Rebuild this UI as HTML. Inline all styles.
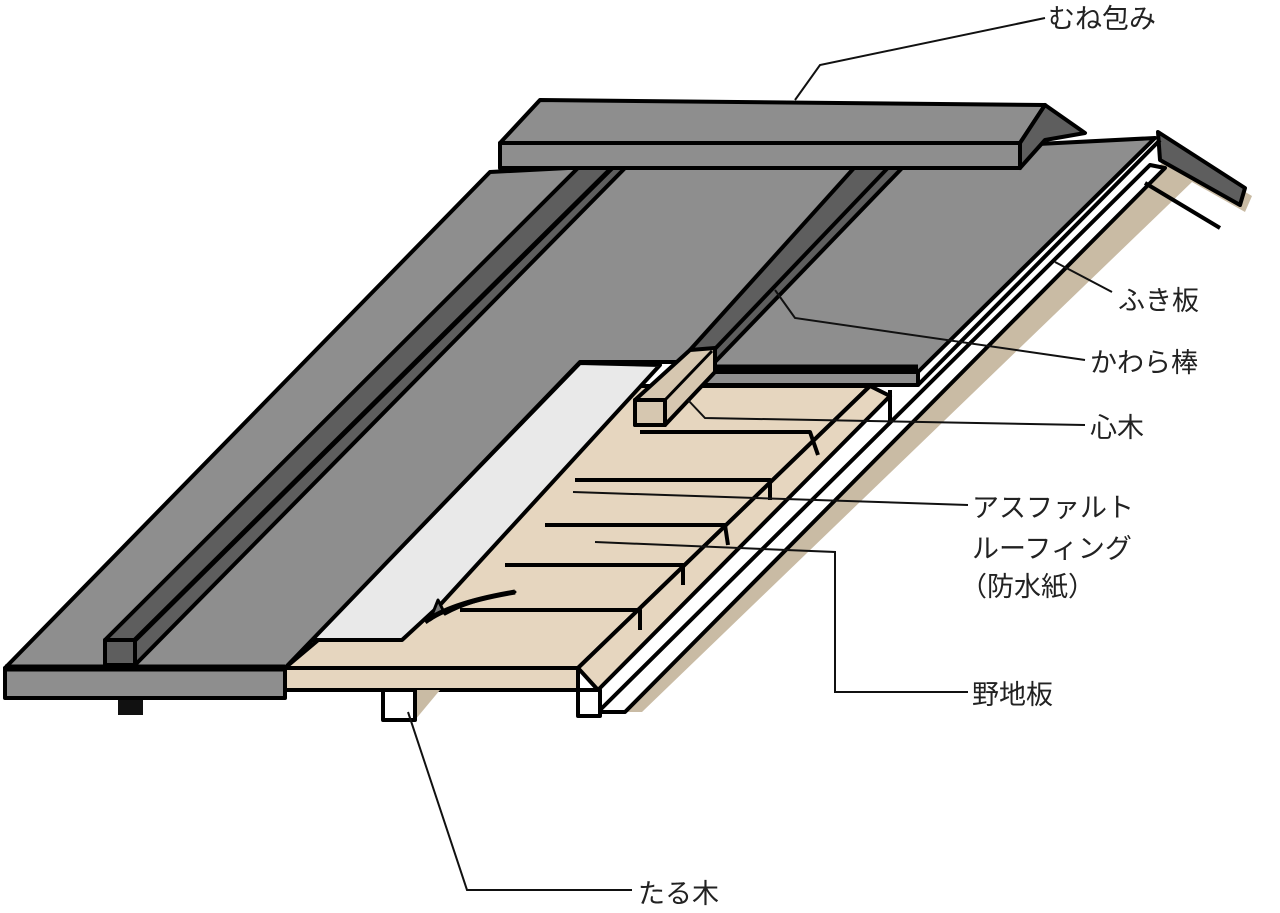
<!DOCTYPE html>
<html><head><meta charset="utf-8"><style>
html,body{margin:0;padding:0;background:#fff;}
svg{display:block}
text{font-family:"Liberation Sans","Noto Sans CJK JP",sans-serif;font-size:27px;fill:#222;}
</style></head><body>
<svg width="1280" height="913" viewBox="0 0 1280 913" xmlns="http://www.w3.org/2000/svg">
<g stroke="#000" stroke-linejoin="round">
<polygon points="1175,150 1252,196 1245,212 1192,182 642,712 612,712" fill="#c9bba4" stroke="none"/>
<polygon points="1150,165 1165,168 625,712 598,712" fill="#fff" stroke-width="4"/>
<polyline points="1145,183 1220,228" fill="none" stroke-width="4"/>
<polygon points="1158,132 1245,188 1240,205 1160,160" fill="#5e5e5e" stroke-width="4"/>
<polygon points="285,668 578,668 870,386 620,386" fill="#e6d6bf" stroke-width="4"/>
<polygon points="578,668 598,690 890,396 870,386" fill="#e6d6bf" stroke-width="4"/>
<rect x="285" y="668" width="293" height="22" fill="#e6d6bf" stroke-width="4"/>
<polygon points="578,690 600,690 600,716 578,716" fill="#fff" stroke-width="4"/>
<polygon points="415,690 440,690 415,720" fill="#c9bba4" stroke="none"/>
<polygon points="383,690 415,690 415,720 383,720" fill="#fff" stroke-width="4"/>
<g stroke-width="4" fill="none">
<polyline points="640,432 810,432 818,455"/>
<polyline points="575,480 770,480 770,500"/>
<polyline points="545,525 725,525 728,545"/>
<polyline points="505,565 683,565 683,585"/>
<polyline points="460,610 640,610 640,630"/>
<line x1="890" y1="390" x2="890" y2="422"/>
</g>
<polygon points="311,640 402,640 440,605 660,365 580,363" fill="#e9e9e9" stroke-width="4"/>
<polygon points="490,172 1155,138 918,372 700,372 700,362 580,362 285,668 5,668" fill="#8e8e8e" stroke-width="4"/>
<rect x="5" y="668" width="280" height="30" fill="#8e8e8e" stroke-width="4"/>
<line x1="5" y1="668" x2="285" y2="668" stroke-width="7"/>
<rect x="118" y="700" width="25" height="15" fill="#111" stroke="none"/>
<polygon points="700,372 918,372 918,385 700,385" fill="#8e8e8e" stroke-width="4"/>
<line x1="700" y1="368" x2="918" y2="368" stroke-width="7"/>
<line x1="918" y1="385" x2="1160" y2="140" stroke-width="4"/>
<polygon points="598,148 628,148 628,165 135,665 105,665 105,640" fill="#5e5e5e" stroke-width="4"/>
<line x1="628" y1="152" x2="135" y2="640" stroke-width="5"/>
<rect x="105" y="640" width="30" height="25" fill="#5e5e5e" stroke-width="4"/>
<polygon points="872,148 905,148 905,165 715,362 715,350 690,350" fill="#5e5e5e" stroke-width="4"/>
<line x1="903" y1="152" x2="712" y2="352" stroke-width="4"/>
<polygon points="690,350 715,348 715,372 665,425 635,425 635,400" fill="#d6c7b0" stroke-width="4"/>
<line x1="665" y1="400" x2="712" y2="351" stroke-width="3"/>
<rect x="635" y="400" width="30" height="25" fill="#d6c7b0" stroke-width="4"/>
<polygon points="540,100 1045,105 1020,143 500,143" fill="#8e8e8e" stroke-width="4"/>
<rect x="500" y="143" width="520" height="25" fill="#8e8e8e" stroke-width="4"/>
<polygon points="1045,105 1085,133 1045,140 1020,168 1020,143" fill="#5e5e5e" stroke-width="4"/>
<path d="M515,592 Q455,600 430,620 L438,600 L445,614 Q470,600 515,592 Z" fill="#777" stroke-width="3"/>
<path d="M515,592 Q450,603 425,622" fill="none" stroke-width="5"/>
</g>
<g stroke="#111" stroke-width="2" fill="none">
<polyline points="795,100 820,65 1045,18"/>
<polyline points="1055,262 1112,292"/>
<polyline points="775,290 795,318 1085,360"/>
<polyline points="688,400 705,418 1085,425"/>
<polyline points="573,492 968,505"/>
<polyline points="595,542 835,552 835,692 968,692"/>
<polyline points="408,712 467,890 632,890"/>
</g>
<text x="1048" y="28">むね包み</text>
<text x="1118" y="310">ふき板</text>
<text x="1090" y="372">かわら棒</text>
<text x="1090" y="437">心木</text>
<text x="972" y="517">アスファルト</text>
<text x="972" y="558">ルーフィング</text>
<text x="960" y="596">（防水紙）</text>
<text x="972" y="704">野地板</text>
<text x="638" y="903">たる木</text>
</svg>
</body></html>
